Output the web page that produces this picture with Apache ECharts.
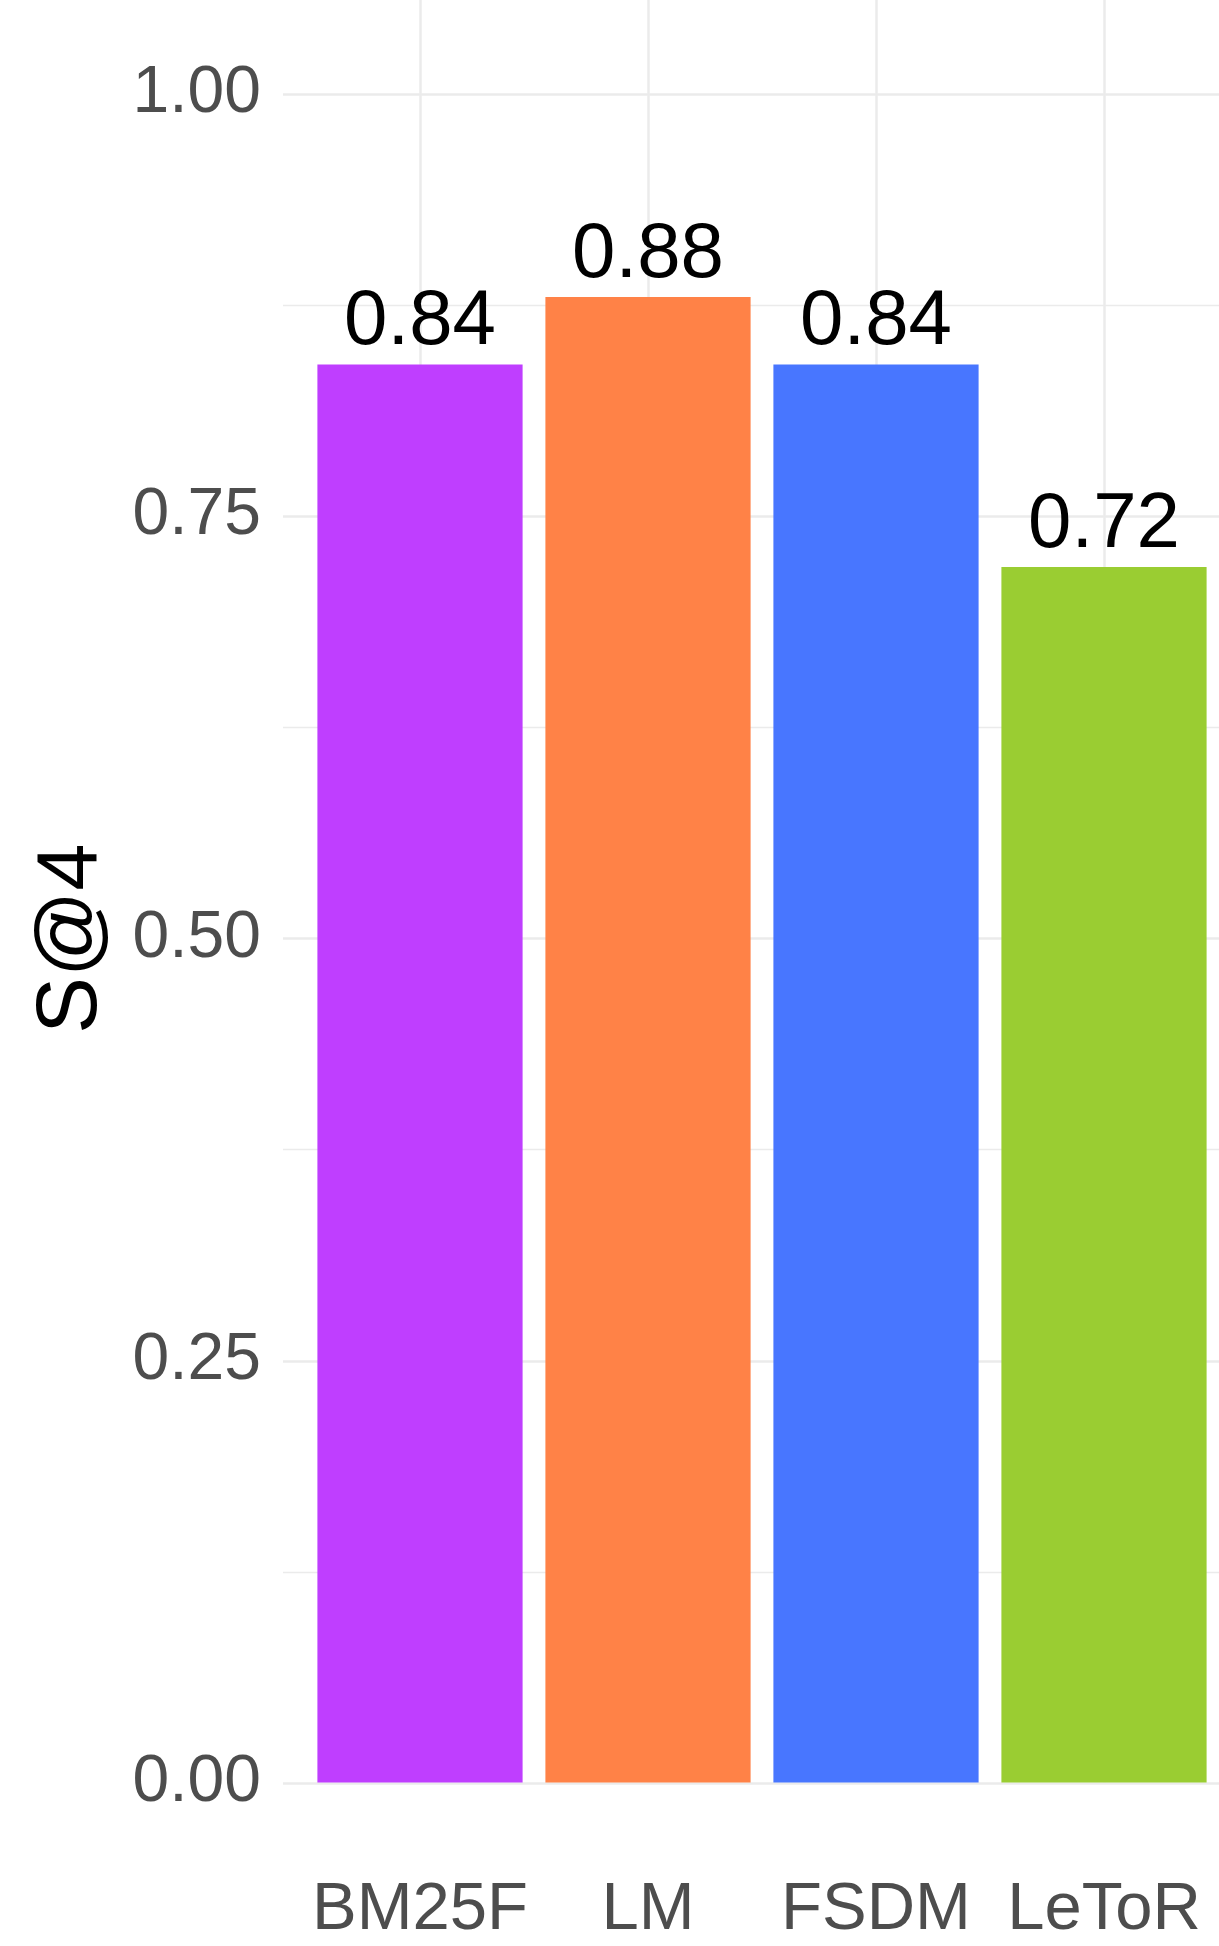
<!DOCTYPE html>
<html>
<head>
<meta charset="utf-8">
<script src="https://cdn.jsdelivr.net/npm/echarts@6/dist/echarts.min.js"></script>
<style>
html,body{margin:0;padding:0;background:#fff;}
#chart{width:1219px;height:1946px;}
</style>
</head>
<body>
<div id="chart"></div>
<script>
const categories = ['BM25F', 'LM', 'FSDM', 'LeToR'];
const values = [0.84, 0.88, 0.84, 0.72];
const barColors = ['#BF3EFF', '#FF8247', '#4876FF', '#9ACD32'];
const yTicks = [0, 0.25, 0.5, 0.75, 1];
const yTitle = 'S@4';

const FONT = 'Liberation Sans';
const chart = echarts.init(document.getElementById('chart'), null, {renderer: 'canvas'});
chart.setOption({
  backgroundColor: '#ffffff',
  animation: false,
  grid: [
    {left: 306, width: 912, top: 10, bottom: 79, containLabel: false},
    {left: 283, right: 0, top: 94, bottom: 163, containLabel: false}
  ],
  xAxis: [
    {
      type: 'category', gridIndex: 0, data: categories, boundaryGap: true,
      axisLine: {show: false},
      axisTick: {show: true, interval: 0, alignWithLabel: true, inside: true, length: 1857,
        lineStyle: {color: '#ebebeb', width: 2.5}},
      splitLine: {show: false},
      axisLabel: {interval: 0, color: '#4d4d4d', fontFamily: FONT, fontSize: 67, margin: 10}
    },
    {type: 'value', gridIndex: 1, show: false, min: 0, max: 1}
  ],
  yAxis: [
    {type: 'value', gridIndex: 0, min: -0.05, max: 1.05, show: false, splitLine: {show: false}},
    {
      type: 'value', gridIndex: 1, min: yTicks[0], max: yTicks[yTicks.length - 1], interval: 0.25,
      axisLine: {show: false}, axisTick: {show: false},
      axisLabel: {color: '#4d4d4d', fontFamily: FONT, fontSize: 66, margin: 22,
        formatter: v => v.toFixed(2)},
      splitLine: {show: true, lineStyle: {color: '#ebebeb', width: 2.7}},
      minorTick: {show: false, splitNumber: 2},
      minorSplitLine: {show: true, lineStyle: {color: '#ebebeb', width: 1.4}},
      name: yTitle, nameLocation: 'middle', nameRotate: 90, nameGap: 168,
      nameTextStyle: {color: '#000', fontFamily: FONT, fontSize: 85}
    }
  ],
  series: [{
    type: 'bar', xAxisIndex: 0, yAxisIndex: 0, barWidth: '90%', z: 2,
    data: values.map((v, i) => ({value: v, itemStyle: {color: barColors[i]}})),
    label: {show: true, position: 'top', distance: 3, color: '#000', fontFamily: FONT, fontSize: 78,
      formatter: p => p.value.toFixed(2)}
  }]
});
</script>
</body>
</html>
